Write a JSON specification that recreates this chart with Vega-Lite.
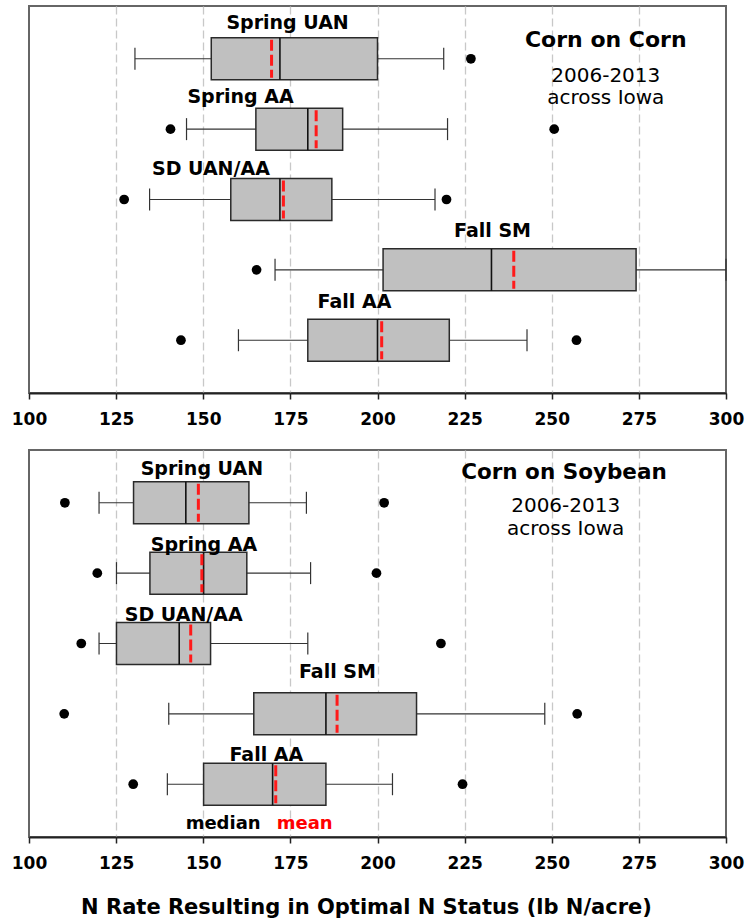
{
  "$schema": "https://vega.github.io/schema/vega-lite/v6.json",
  "padding": {"left": 10, "top": 5, "right": 2, "bottom": 2},
  "bounds": "flush",
  "spacing": 57,
  "datasets": {
    "cc_box": [
      {"group": "Spring UAN", "pos": 5, "wlo": 130.4, "q1": 152.3, "med": 172.0, "mean": 169.6, "q3": 200.0, "whi": 219.0, "label_x": 174.2, "label_y": 5.51},
      {"group": "Spring AA", "pos": 4, "wlo": 145.2, "q1": 165.1, "med": 180.0, "mean": 182.4, "q3": 190.0, "whi": 220.1, "label_x": 160.7, "label_y": 4.45},
      {"group": "SD UAN/AA", "pos": 3, "wlo": 134.6, "q1": 157.9, "med": 172.0, "mean": 173.0, "q3": 186.9, "whi": 216.5, "label_x": 152.2, "label_y": 3.44},
      {"group": "Fall SM", "pos": 2, "wlo": 170.6, "q1": 201.6, "med": 232.7, "mean": 239.1, "q3": 274.2, "whi": 300.0, "label_x": 233.0, "label_y": 2.55},
      {"group": "Fall AA", "pos": 1, "wlo": 160.1, "q1": 180.0, "med": 200.0, "mean": 201.2, "q3": 220.6, "whi": 242.9, "label_x": 193.4, "label_y": 1.55}
    ],
    "cc_out": [
      {"group": "Spring UAN", "pos": 5, "value": 226.8},
      {"group": "Spring AA", "pos": 4, "value": 140.6},
      {"group": "Spring AA", "pos": 4, "value": 250.7},
      {"group": "SD UAN/AA", "pos": 3, "value": 127.3},
      {"group": "SD UAN/AA", "pos": 3, "value": 219.8},
      {"group": "Fall SM", "pos": 2, "value": 165.3},
      {"group": "Fall AA", "pos": 1, "value": 143.6},
      {"group": "Fall AA", "pos": 1, "value": 257.1}
    ],
    "cc_head": [{"x": 265.5, "y": 5.26, "t": "Corn on Corn"}],
    "cc_sub": [{"x": 265.5, "y": 4.75, "t": "2006-2013"}, {"x": 265.5, "y": 4.44, "t": "across Iowa"}],
    "cs_box": [
      {"group": "Spring UAN", "pos": 5, "wlo": 120.1, "q1": 130.0, "med": 145.0, "mean": 148.6, "q3": 163.1, "whi": 179.6, "label_x": 149.6, "label_y": 5.48},
      {"group": "Spring AA", "pos": 4, "wlo": 125.1, "q1": 134.7, "med": 150.1, "mean": 149.6, "q3": 162.5, "whi": 180.8, "label_x": 150.2, "label_y": 4.40},
      {"group": "SD UAN/AA", "pos": 3, "wlo": 120.1, "q1": 125.1, "med": 143.1, "mean": 146.4, "q3": 152.1, "whi": 180.0, "label_x": 144.4, "label_y": 3.40},
      {"group": "Fall SM", "pos": 2, "wlo": 140.1, "q1": 164.5, "med": 185.2, "mean": 188.4, "q3": 211.2, "whi": 248.0, "label_x": 188.5, "label_y": 2.60},
      {"group": "Fall AA", "pos": 1, "wlo": 139.7, "q1": 150.1, "med": 169.9, "mean": 170.8, "q3": 185.2, "whi": 204.3, "label_x": 168.1, "label_y": 1.42}
    ],
    "cs_out": [
      {"group": "Spring UAN", "pos": 5, "value": 110.3},
      {"group": "Spring UAN", "pos": 5, "value": 201.9},
      {"group": "Spring AA", "pos": 4, "value": 119.6},
      {"group": "Spring AA", "pos": 4, "value": 199.7},
      {"group": "SD UAN/AA", "pos": 3, "value": 115.0},
      {"group": "SD UAN/AA", "pos": 3, "value": 218.2},
      {"group": "Fall SM", "pos": 2, "value": 110.1},
      {"group": "Fall SM", "pos": 2, "value": 257.3},
      {"group": "Fall AA", "pos": 1, "value": 129.9},
      {"group": "Fall AA", "pos": 1, "value": 224.4}
    ],
    "cs_head": [{"x": 253.5, "y": 5.43, "t": "Corn on Soybean"}],
    "cs_sub": [{"x": 254.0, "y": 4.95, "t": "2006-2013"}, {"x": 254.0, "y": 4.63, "t": "across Iowa"}],
    "cs_median": [{"x": 155.7, "y": 0.44, "t": "median"}],
    "cs_mean": [{"x": 179.1, "y": 0.44, "t": "mean"}]
  },
  "vconcat": [
    {
      "width": 697,
      "height": 387,
      "layer": [
        {"data": {"name": "cc_box"}, "mark": {"type": "rule", "color": "#333333", "strokeWidth": 1.2},
         "encoding": {
           "x": {"field": "wlo", "type": "quantitative", "scale": {"domain": [100, 300], "nice": false, "zero": false},
                 "axis": {"title": null, "values": [100, 125, 150, 175, 200, 225, 250, 275, 300]}},
           "x2": {"field": "whi"},
           "y": {"field": "pos", "type": "quantitative", "scale": {"domain": [0.25, 5.75], "nice": false, "zero": false}, "axis": null}}},
        {"data": {"name": "cc_box"}, "mark": {"type": "rule", "color": "#333333", "strokeWidth": 1.2, "yOffset": -11, "y2Offset": 11},
         "encoding": {"x": {"field": "wlo", "type": "quantitative", "title": null}, "y": {"field": "pos", "type": "quantitative"}, "y2": {"field": "pos"}}},
        {"data": {"name": "cc_box"}, "mark": {"type": "rule", "color": "#333333", "strokeWidth": 1.2, "yOffset": -11, "y2Offset": 11},
         "encoding": {"x": {"field": "whi", "type": "quantitative", "title": null}, "y": {"field": "pos", "type": "quantitative"}, "y2": {"field": "pos"}}},
        {"data": {"name": "cc_box"}, "mark": {"type": "rect", "fill": "#c0c0c0", "stroke": "#2a2a2a", "strokeWidth": 1.5, "yOffset": -21, "y2Offset": 21},
         "encoding": {"x": {"field": "q1", "type": "quantitative", "title": null}, "x2": {"field": "q3"}, "y": {"field": "pos", "type": "quantitative"}, "y2": {"field": "pos"}}},
        {"data": {"name": "cc_box"}, "mark": {"type": "rule", "color": "#111111", "strokeWidth": 1.6, "yOffset": -21, "y2Offset": 21},
         "encoding": {"x": {"field": "med", "type": "quantitative", "title": null}, "y": {"field": "pos", "type": "quantitative"}, "y2": {"field": "pos"}}},
        {"data": {"name": "cc_box"}, "mark": {"type": "rule", "color": "#ff1a1a", "strokeWidth": 3, "strokeDash": [11, 4], "yOffset": -19, "y2Offset": 19},
         "encoding": {"x": {"field": "mean", "type": "quantitative", "title": null}, "y": {"field": "pos", "type": "quantitative"}, "y2": {"field": "pos"}}},
        {"data": {"name": "cc_out"}, "mark": {"type": "circle", "color": "#000000", "size": 95, "opacity": 1},
         "encoding": {"x": {"field": "value", "type": "quantitative", "title": null}, "y": {"field": "pos", "type": "quantitative"}}},
        {"data": {"name": "cc_box"}, "mark": {"type": "text", "font": "DejaVu Sans", "fontWeight": "bold", "fontSize": 19, "color": "#000000", "align": "center", "baseline": "middle"},
         "encoding": {"x": {"field": "label_x", "type": "quantitative", "title": null}, "y": {"field": "label_y", "type": "quantitative"}, "text": {"field": "group"}}},
        {"data": {"name": "cc_head"}, "mark": {"type": "text", "font": "DejaVu Sans", "fontWeight": "bold", "fontSize": 22, "color": "#000000", "align": "center", "baseline": "middle"},
         "encoding": {"x": {"field": "x", "type": "quantitative", "title": null}, "y": {"field": "y", "type": "quantitative"}, "text": {"field": "t"}}},
        {"data": {"name": "cc_sub"}, "mark": {"type": "text", "font": "DejaVu Sans", "fontSize": 20, "color": "#000000", "align": "center", "baseline": "middle"},
         "encoding": {"x": {"field": "x", "type": "quantitative", "title": null}, "y": {"field": "y", "type": "quantitative"}, "text": {"field": "t"}}}
      ]
    },
    {
      "width": 697,
      "height": 387,
      "layer": [
        {"data": {"name": "cs_box"}, "mark": {"type": "rule", "color": "#333333", "strokeWidth": 1.2},
         "encoding": {
           "x": {"field": "wlo", "type": "quantitative", "scale": {"domain": [100, 300], "nice": false, "zero": false},
                 "axis": {"title": "N Rate Resulting in Optimal N Status (lb N/acre)", "values": [100, 125, 150, 175, 200, 225, 250, 275, 300]}},
           "x2": {"field": "whi"},
           "y": {"field": "pos", "type": "quantitative", "scale": {"domain": [0.25, 5.75], "nice": false, "zero": false}, "axis": null}}},
        {"data": {"name": "cs_box"}, "mark": {"type": "rule", "color": "#333333", "strokeWidth": 1.2, "yOffset": -11, "y2Offset": 11},
         "encoding": {"x": {"field": "wlo", "type": "quantitative"}, "y": {"field": "pos", "type": "quantitative"}, "y2": {"field": "pos"}}},
        {"data": {"name": "cs_box"}, "mark": {"type": "rule", "color": "#333333", "strokeWidth": 1.2, "yOffset": -11, "y2Offset": 11},
         "encoding": {"x": {"field": "whi", "type": "quantitative"}, "y": {"field": "pos", "type": "quantitative"}, "y2": {"field": "pos"}}},
        {"data": {"name": "cs_box"}, "mark": {"type": "rect", "fill": "#c0c0c0", "stroke": "#2a2a2a", "strokeWidth": 1.5, "yOffset": -21, "y2Offset": 21},
         "encoding": {"x": {"field": "q1", "type": "quantitative"}, "x2": {"field": "q3"}, "y": {"field": "pos", "type": "quantitative"}, "y2": {"field": "pos"}}},
        {"data": {"name": "cs_box"}, "mark": {"type": "rule", "color": "#111111", "strokeWidth": 1.6, "yOffset": -21, "y2Offset": 21},
         "encoding": {"x": {"field": "med", "type": "quantitative"}, "y": {"field": "pos", "type": "quantitative"}, "y2": {"field": "pos"}}},
        {"data": {"name": "cs_box"}, "mark": {"type": "rule", "color": "#ff1a1a", "strokeWidth": 3, "strokeDash": [11, 4], "yOffset": -19, "y2Offset": 19},
         "encoding": {"x": {"field": "mean", "type": "quantitative"}, "y": {"field": "pos", "type": "quantitative"}, "y2": {"field": "pos"}}},
        {"data": {"name": "cs_out"}, "mark": {"type": "circle", "color": "#000000", "size": 95, "opacity": 1},
         "encoding": {"x": {"field": "value", "type": "quantitative"}, "y": {"field": "pos", "type": "quantitative"}}},
        {"data": {"name": "cs_box"}, "mark": {"type": "text", "font": "DejaVu Sans", "fontWeight": "bold", "fontSize": 19, "color": "#000000", "align": "center", "baseline": "middle"},
         "encoding": {"x": {"field": "label_x", "type": "quantitative"}, "y": {"field": "label_y", "type": "quantitative"}, "text": {"field": "group"}}},
        {"data": {"name": "cs_head"}, "mark": {"type": "text", "font": "DejaVu Sans", "fontWeight": "bold", "fontSize": 21.5, "color": "#000000", "align": "center", "baseline": "middle"},
         "encoding": {"x": {"field": "x", "type": "quantitative"}, "y": {"field": "y", "type": "quantitative"}, "text": {"field": "t"}}},
        {"data": {"name": "cs_sub"}, "mark": {"type": "text", "font": "DejaVu Sans", "fontSize": 20, "color": "#000000", "align": "center", "baseline": "middle"},
         "encoding": {"x": {"field": "x", "type": "quantitative"}, "y": {"field": "y", "type": "quantitative"}, "text": {"field": "t"}}},
        {"data": {"name": "cs_median"}, "mark": {"type": "text", "font": "DejaVu Sans", "fontWeight": "bold", "fontSize": 18, "color": "#000000", "align": "center", "baseline": "middle"},
         "encoding": {"x": {"field": "x", "type": "quantitative"}, "y": {"field": "y", "type": "quantitative"}, "text": {"field": "t"}}},
        {"data": {"name": "cs_mean"}, "mark": {"type": "text", "font": "DejaVu Sans", "fontWeight": "bold", "fontSize": 18, "color": "#ff0000", "align": "center", "baseline": "middle"},
         "encoding": {"x": {"field": "x", "type": "quantitative"}, "y": {"field": "y", "type": "quantitative"}, "text": {"field": "t"}}}
      ]
    }
  ],
  "config": {
    "font": "DejaVu Sans",
    "view": {"stroke": "#666666", "strokeWidth": 2},
    "axisX": {
      "grid": true,
      "gridDash": [8, 4],
      "gridColor": {"condition": {"test": "datum.value == 100 || datum.value == 300", "value": "transparent"}, "value": "#c8c8c8"},
      "gridWidth": 1.3,
      "domainColor": "#222222",
      "domainWidth": 2,
      "tickColor": "#222222",
      "tickWidth": 1.5,
      "tickSize": 6,
      "labelFont": "DejaVu Sans",
      "labelFontWeight": "bold",
      "labelFontSize": 17,
      "labelColor": "#000000",
      "labelPadding": 12,
      "labelFlush": false,
      "labelOverlap": false,
      "titleFont": "DejaVu Sans",
      "titleFontWeight": "bold",
      "titleFontSize": 21,
      "titleColor": "#000000",
      "titlePadding": 25,
      "titleX": 337
    }
  }
}
